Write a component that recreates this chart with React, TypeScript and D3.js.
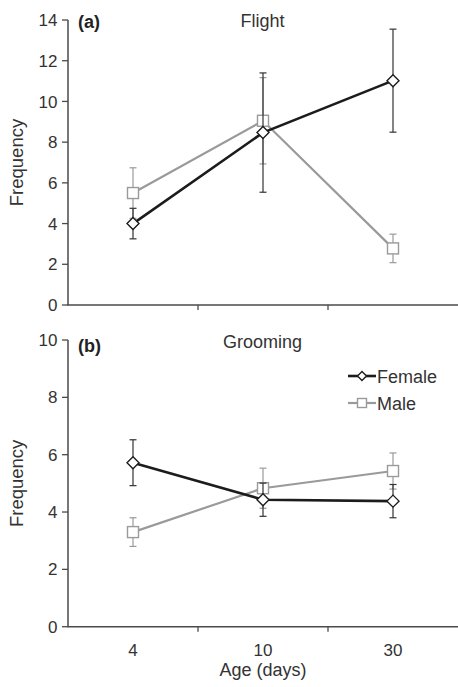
import React from "react";
import * as d3 from "d3";

const categories = ["4", "10", "30"];
const flightFemale = [4.0, 8.47, 11.02];
const flightFemaleErr = [0.75, 2.93, 2.53];
const flightMale = [5.5, 9.05, 2.78];
const flightMaleErr = [1.24, 2.12, 0.7];
const groomFemale = [5.72, 4.43, 4.38];
const groomFemaleErr = [0.8, 0.58, 0.58];
const groomMale = [3.3, 4.83, 5.43];
const groomMaleErr = [0.5, 0.7, 0.63];
const flightTicks = [0, 2, 4, 6, 8, 10, 12, 14];
const groomTicks = [0, 2, 4, 6, 8, 10];

const W = 458;
const H = 687;
const FONT = "'Liberation Sans', Arial, sans-serif";
const AXIS = "#4a4a4a";
const TXT = "#333";
const FEM = "#1c1c1c";
const MAL = "#9a9a9a";

const x = d3.scaleBand<string>().domain(categories).range([68, 458]);
const cx = (c: string) => (x(c) as number) + x.bandwidth() / 2;

function Diamond({ px, py, r, stroke }: { px: number; py: number; r: number; stroke: string }) {
  const p = d3.path();
  p.moveTo(px, py - r);
  p.lineTo(px + r, py);
  p.lineTo(px, py + r);
  p.lineTo(px - r, py);
  p.closePath();
  return <path d={p.toString()} fill="white" stroke={stroke} strokeWidth={1.4} />;
}

function Square({ px, py, s, stroke }: { px: number; py: number; s: number; stroke: string }) {
  return <rect x={px - s / 2} y={py - s / 2} width={s} height={s} fill="white" stroke={stroke} strokeWidth={1.4} />;
}

function Series({
  vals,
  errs,
  y,
  color,
  errColor,
  marker,
  width,
}: {
  vals: number[];
  errs: number[];
  y: d3.ScaleLinear<number, number>;
  color: string;
  errColor: string;
  marker: "d" | "s";
  width: number;
}) {
  const line = d3
    .line<number>()
    .x((_, i) => cx(categories[i]))
    .y((v) => y(v));
  return (
    <g>
      {vals.map((v, i) => {
        const px = cx(categories[i]);
        const t = y(v + errs[i]);
        const b = y(v - errs[i]);
        return (
          <g key={"e" + i} stroke={errColor} strokeWidth={1.2}>
            <line x1={px} x2={px} y1={t} y2={b} />
            <line x1={px - 3.5} x2={px + 3.5} y1={t} y2={t} />
            <line x1={px - 3.5} x2={px + 3.5} y1={b} y2={b} />
          </g>
        );
      })}
      <path d={line(vals) as string} fill="none" stroke={color} strokeWidth={width} />
      {vals.map((v, i) =>
        marker === "d" ? (
          <Diamond key={"m" + i} px={cx(categories[i])} py={y(v)} r={6} stroke={color} />
        ) : (
          <Square key={"m" + i} px={cx(categories[i])} py={y(v)} s={11} stroke={color} />
        )
      )}
    </g>
  );
}

function Panel({
  y,
  ticks,
  label,
  labelY,
  title,
  titleY,
  female,
  femaleErr,
  male,
  maleErr,
}: {
  y: d3.ScaleLinear<number, number>;
  ticks: number[];
  label: string;
  labelY: number;
  title: string;
  titleY: number;
  female: number[];
  femaleErr: number[];
  male: number[];
  maleErr: number[];
}) {
  const [y0, y1] = y.range();
  const xBounds = categories.slice(1).map((c) => x(c) as number);
  return (
    <g>
      <line x1={68} x2={68} y1={y1} y2={y0} stroke={AXIS} strokeWidth={1.5} />
      <line x1={67.25} x2={458} y1={y0} y2={y0} stroke={AXIS} strokeWidth={1.5} />
      {ticks.map((t) => (
        <g key={t}>
          <line x1={62} x2={68} y1={y(t)} y2={y(t)} stroke={AXIS} strokeWidth={1.3} />
          <text x={57.5} y={y(t)} dy="0.36em" textAnchor="end" fontSize={17} fill={TXT} fontFamily={FONT}>
            {t}
          </text>
        </g>
      ))}
      {xBounds.map((b) => (
        <line key={b} x1={b} x2={b} y1={y0} y2={y0 + 5} stroke={AXIS} strokeWidth={1.3} />
      ))}
      <text
        transform={`translate(23,${(y0 + y1) / 2}) rotate(-90)`}
        textAnchor="middle"
        fontSize={18.5}
        fill={TXT}
        fontFamily={FONT}
      >
        Frequency
      </text>
      <text x={78} y={labelY} fontSize={18} fontWeight="bold" fill="#222" fontFamily={FONT}>
        {label}
      </text>
      <text x={262.5} y={titleY} textAnchor="middle" fontSize={18} fill={TXT} fontFamily={FONT}>
        {title}
      </text>
      <Series vals={male} errs={maleErr} y={y} color={MAL} errColor={MAL} marker="s" width={2.2} />
      <Series vals={female} errs={femaleErr} y={y} color={FEM} errColor="#333" marker="d" width={2.6} />
    </g>
  );
}

export default function App() {
  const yA = d3.scaleLinear().domain([0, 14]).range([305, 20]);
  const yB = d3.scaleLinear().domain([0, 10]).range([626.7, 340]);
  const yB0 = yB.range()[0];
  return (
    <svg width={W} height={H} style={{ position: "absolute", left: 0, top: 0, background: "white" }}>
      <rect width={W} height={H} fill="white" />
      <Panel
        y={yA}
        ticks={flightTicks}
        label="(a)"
        labelY={28}
        title="Flight"
        titleY={27}
        female={flightFemale}
        femaleErr={flightFemaleErr}
        male={flightMale}
        maleErr={flightMaleErr}
      />
      <Panel
        y={yB}
        ticks={groomTicks}
        label="(b)"
        labelY={351.5}
        title="Grooming"
        titleY={348}
        female={groomFemale}
        femaleErr={groomFemaleErr}
        male={groomMale}
        maleErr={groomMaleErr}
      />
      {categories.map((c) => (
        <text key={c} x={cx(c)} y={yB0 + 29} textAnchor="middle" fontSize={17} fill={TXT} fontFamily={FONT}>
          {c}
        </text>
      ))}
      <text x={263} y={yB0 + 49.5} textAnchor="middle" fontSize={18} fill={TXT} fontFamily={FONT}>
        Age (days)
      </text>
      <g>
        <line x1={348} x2={376} y1={376} y2={376} stroke={FEM} strokeWidth={2.6} />
        <Diamond px={362} py={376} r={4.5} stroke={FEM} />
        <text x={377} y={382.5} fontSize={18} fill={TXT} fontFamily={FONT}>
          Female
        </text>
        <line x1={348} x2={376} y1={403} y2={403} stroke={MAL} strokeWidth={2.2} />
        <Square px={362} py={403} s={9} stroke={MAL} />
        <text x={377} y={410} fontSize={18} fill={TXT} fontFamily={FONT}>
          Male
        </text>
      </g>
    </svg>
  );
}
